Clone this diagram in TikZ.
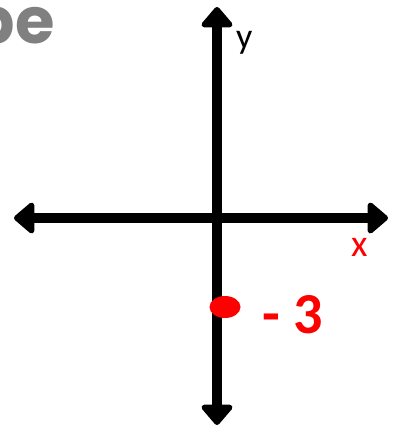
\documentclass[tikz,border=0pt]{standalone}
\usepackage{fontspec}
\setmainfont{Carlito}
\newfontfamily\titlefont{Poppins}
\usetikzlibrary{arrows.meta, shapes.geometric}

\begin{document}
\begin{tikzpicture}[x=1pt, y=-1pt, >={Triangle[length=22pt,width=36pt,round]},
    axis/.style={line width=10pt, <->},
    redtext/.style={red, inner sep=0pt, anchor=base west}]
    \useasboundingbox (0,0) rectangle (395,426);
    \clip (0,0) rectangle (395,426);
    \fill[white] (0,0) rectangle (395,426);
    \node[gray, anchor=base east, inner sep=0pt, font=\titlefont\bfseries\fontsize{64}{70}\selectfont] (title) at (55,43) {pe};
    \coordinate (left) at (14,218);
    \coordinate (right) at (388,218);
    \coordinate (top) at (217,7);
    \coordinate (bottom) at (217,425);
    \draw[axis] (left) -- (right);
    \draw[axis] (bottom) -- (top);
    \node[anchor=base west, inner sep=0pt, font=\fontsize{36}{40}\selectfont] (ylab) at (236,48) {y};
    \node[redtext, font=\fontsize{38}{40}\selectfont] (xlab) at (351,256) {x};
    \node[ellipse, fill=red, minimum width=31pt, minimum height=22pt, inner sep=0pt] (dot) at (225,307) {};
    \node[redtext, font=\bfseries\fontsize{58}{60}\selectfont] (val) at (262,333) {- 3};
\end{tikzpicture}
\end{document}
